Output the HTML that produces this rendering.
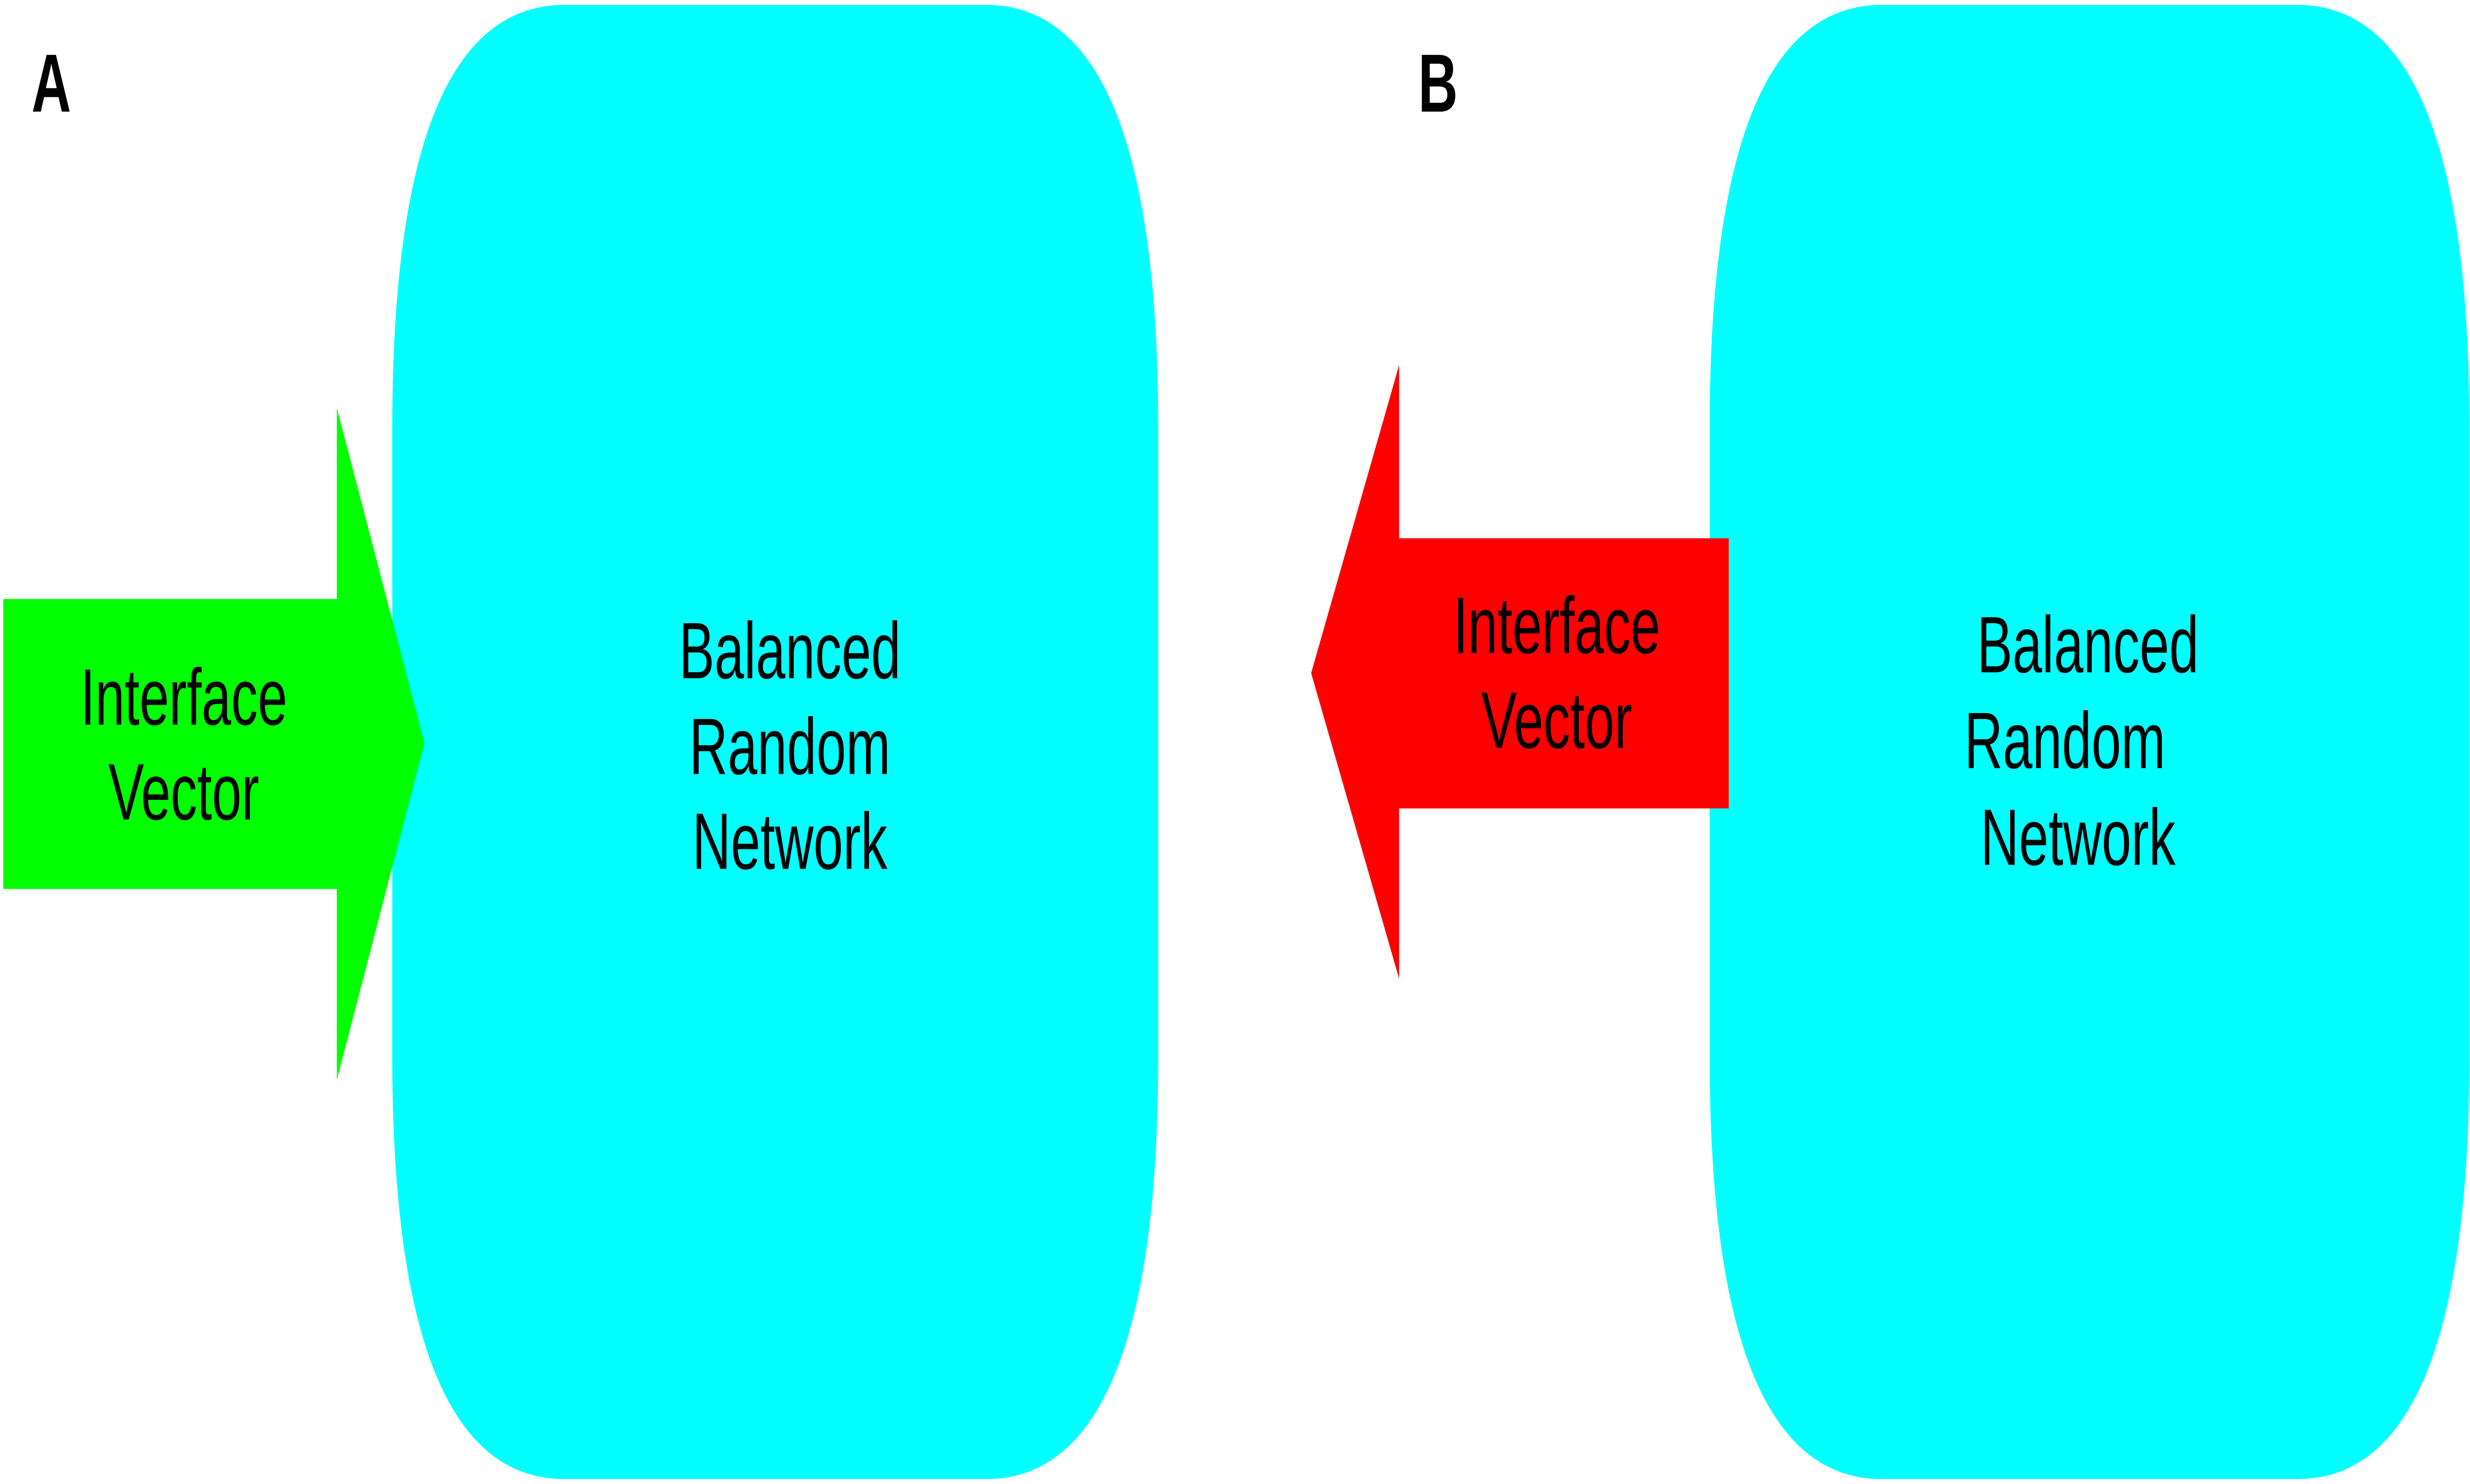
<!DOCTYPE html>
<html><head><meta charset="utf-8"><style>
html,body{margin:0;padding:0;background:#fff;width:100%;height:100%;overflow:hidden;}
svg{display:block;width:100vw;height:100vh;}
text{font-family:"Liberation Sans",Arial,sans-serif;fill:#000;}
</style></head><body>
<svg viewBox="0 0 7524 3005" preserveAspectRatio="none" xmlns="http://www.w3.org/2000/svg">
<rect width="7524" height="3005" fill="#fff"/>
<path fill="#00ffff" d="M1719,10 H3004 C3348,10 3528,288 3528,865 V2140 C3528,2717 3348,2995 3004,2995 H1719 C1375,2995 1195,2717 1195,2140 V865 C1195,288 1375,10 1719,10 Z"/>
<path fill="#00ffff" d="M5732,10 H6998 C7342,10 7522,288 7522,865 V2140 C7522,2717 7342,2995 6998,2995 H5732 C5388,2995 5208,2717 5208,2140 V865 C5208,288 5388,10 5732,10 Z"/>
<polygon fill="#00ff00" points="10,1213 1026,1213 1026,826 1293,1505 1026,2187 1026,1800 10,1800"/>
<polygon fill="#ff0000" points="5266,1090 4262,1090 4262,739 3994,1363 4262,1982 4262,1637 5266,1637"/>
<text x="96" y="226" font-size="167" font-weight="bold">A</text>
<text x="4320" y="226" font-size="167" font-weight="bold">B</text>
<g font-size="162" text-anchor="middle" dominant-baseline="central">
<text x="2406" y="1318">Balanced</text>
<text x="2406" y="1512">Random</text>
<text x="2406" y="1704">Network</text>
<text x="560" y="1412">Interface</text>
<text x="560" y="1604">Vector</text>
<text x="4742" y="1267">Interface</text>
<text x="4742" y="1459">Vector</text>
<text x="6360" y="1306">Balanced</text>
<text x="6290" y="1500">Random</text>
<text x="6330" y="1696">Network</text>
</g>
</svg>
</body></html>
